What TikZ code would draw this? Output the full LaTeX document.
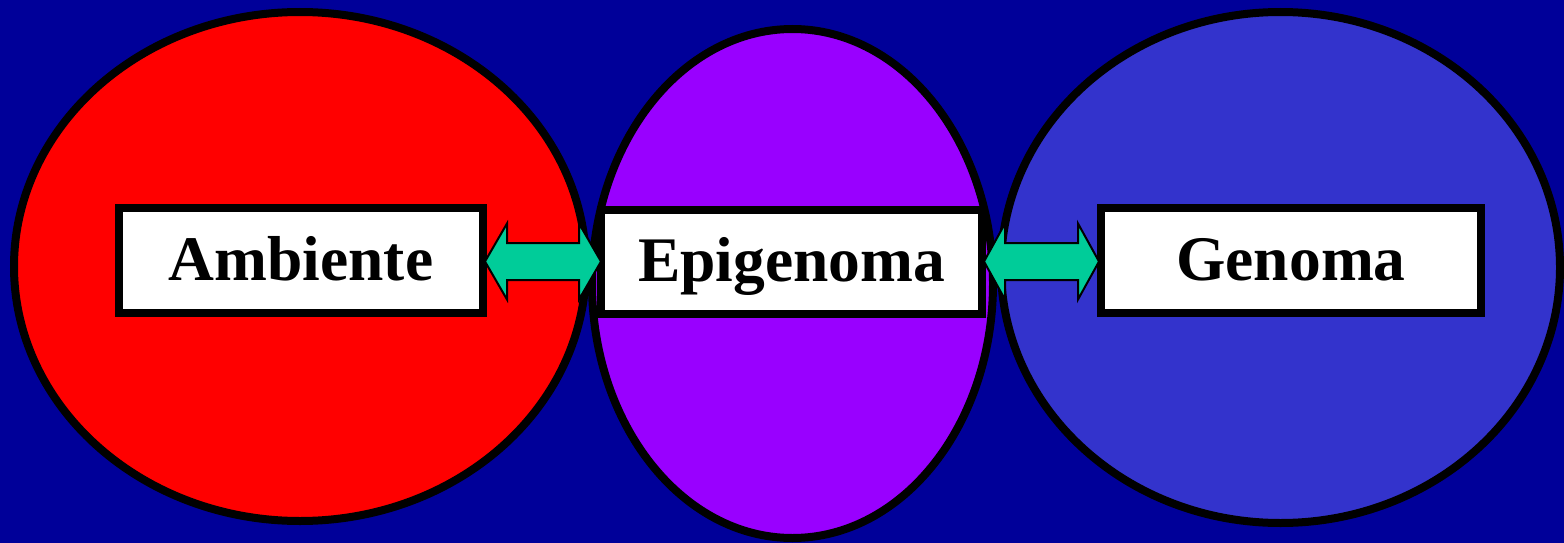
\documentclass[tikz,border=0pt]{standalone}
\usepackage{fontspec}
\setmainfont{Liberation Serif}
\usetikzlibrary{calc}
\definecolor{bgblue}{HTML}{000099}
\definecolor{ered}{HTML}{FF0000}
\definecolor{epurple}{HTML}{9900FF}
\definecolor{eblue}{HTML}{3333CC}
\definecolor{agreen}{HTML}{00CC99}
\tikzset{
  circ/.style={draw=black, line width=8pt},
  labelbox/.style={draw=black, fill=white, line width=8pt, inner sep=0pt,
    minimum height=105pt, text height=44pt, text depth=5pt,
    font=\bfseries\fontsize{63.5}{70}\selectfont},
  dblarrow/.style={draw=black, fill=agreen, line width=2pt, line join=miter}
}
\begin{document}
\begin{tikzpicture}[x=1pt,y=-1pt]
\useasboundingbox (0,0) rectangle (1564,543);
\fill[bgblue] (0,0) rectangle (1564,543);
% ellipses
\draw[circ, fill=ered] (300,266.5) ellipse [x radius=286pt, y radius=254.5pt];
\draw[circ, fill=eblue] (1280.5,267.5) ellipse [x radius=279.5pt, y radius=255.5pt];
\draw[circ, fill=epurple] (792.5,283.5) ellipse [x radius=200.5pt, y radius=254.5pt];
% boxes
\node[labelbox, minimum width=364pt] (a) at (301,260.5) {Ambiente};
\node[labelbox, minimum width=381pt, minimum height=104pt] (b) at (791.5,262) {Epigenoma};
\node[labelbox, minimum width=380pt] (c) at (1291,260.5) {Genoma};
% double arrows
\draw[dblarrow] let \p1=(a.east), \p2=(b.west) in
  (\x1-2pt,\y1-1pt) -- (\x1+20pt,\y1+37pt) -- (\x1+20pt,\y1+17.5pt)
  -- (\x2-18pt,\y1+17.5pt) -- (\x2-18pt,\y1+37pt) -- (\x2+4pt,\y1-1pt)
  -- (\x2-18pt,\y1-39pt) -- (\x2-18pt,\y1-19.5pt) -- (\x1+20pt,\y1-19.5pt)
  -- (\x1+20pt,\y1-39pt) -- cycle;
\draw[dblarrow] let \p1=(b.east), \p2=(c.west) in
  (\x1-2pt,\y1+0.5pt) -- (\x1+19pt,\y1+38.5pt) -- (\x1+19pt,\y1+19pt)
  -- (\x2-19pt,\y1+19pt) -- (\x2-19pt,\y1+38.5pt) -- (\x2+2pt,\y1+0.5pt)
  -- (\x2-19pt,\y1-37.5pt) -- (\x2-19pt,\y1-18pt) -- (\x1+19pt,\y1-18pt)
  -- (\x1+19pt,\y1-37.5pt) -- cycle;
\end{tikzpicture}
\end{document}
